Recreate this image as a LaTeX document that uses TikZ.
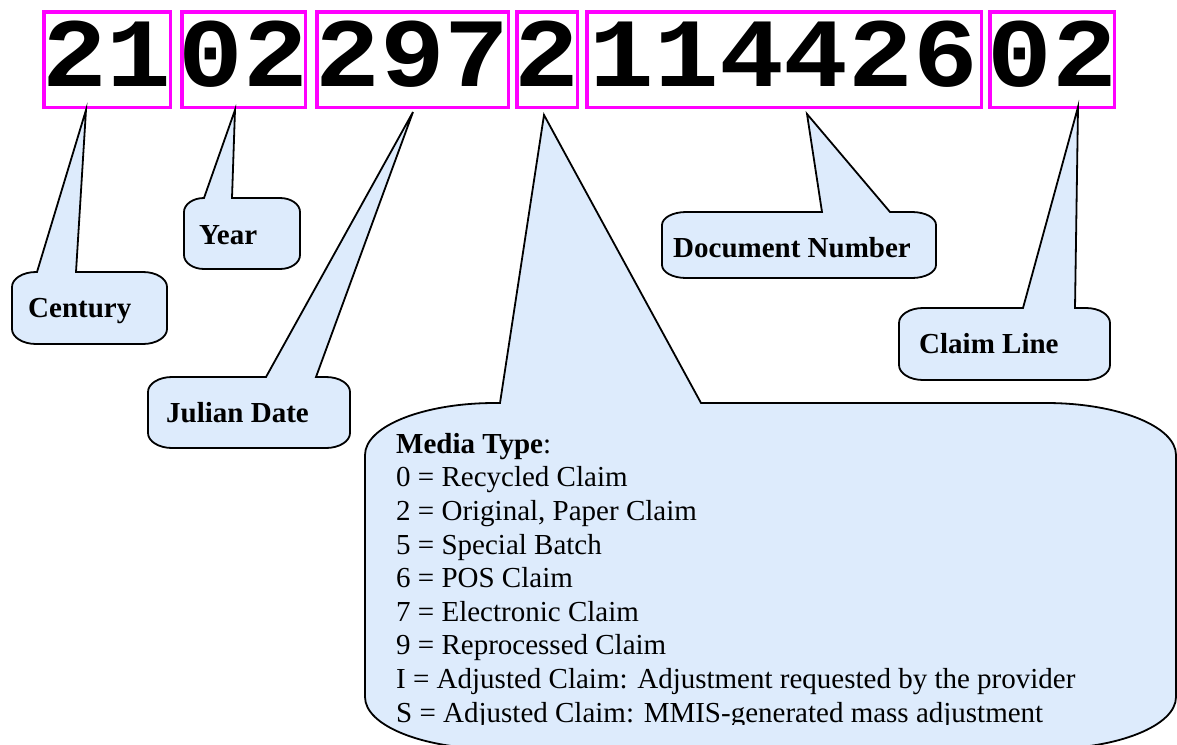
\documentclass[tikz,border=0pt]{standalone}
\usepackage{fontspec}
\setmainfont{Liberation Serif}
\newfontfamily\digitfont{Liberation Mono}[FakeStretch=1.1]

\definecolor{boxpink}{RGB}{255,0,255}
\definecolor{balloonblue}{RGB}{221,235,252}

% balloon: left, top, right, bottom, x radius, y radius, pointer base from, to, tip
\newcommand{\balloon}[9]{%
  \filldraw[balloonline] (#7,-#2) -- (#9) -- (#8,-#2)
    -- ({#3-#5},-#2) arc[start angle=90,end angle=0,x radius=#5pt,y radius=#6pt]
    -- (#3,{-#4+#6}) arc[start angle=0,end angle=-90,x radius=#5pt,y radius=#6pt]
    -- ({#1+#5},-#4) arc[start angle=270,end angle=180,x radius=#5pt,y radius=#6pt]
    -- (#1,{-#2-#6}) arc[start angle=180,end angle=90,x radius=#5pt,y radius=#6pt]
    -- cycle;}

\tikzset{
  digitbox/.style={draw=boxpink, line width=3.5pt, inner sep=0pt,
    minimum height=95.5pt, text height=69pt, text depth=16pt,
    font=\digitfont\bfseries\fontsize{98}{98}\selectfont},
  balloonline/.style={draw=black, line width=1.8pt, fill=balloonblue},
  tag/.style={inner sep=0pt, anchor=base west,
    font=\bfseries\fontsize{29}{33}\selectfont},
}

\begin{document}
\begin{tikzpicture}[x=1pt,y=1pt]
        \clip (0,0) rectangle (1177,-744);

        % the claim number, split into its fields
        \node[digitbox, minimum width=126.5pt] (century) at (107,-59.5)  {\makebox[0pt]{21}};
        \node[digitbox, minimum width=123.5pt] (year)    at (243.5,-59.5) {\makebox[0pt]{02}};
        \node[digitbox, minimum width=191.5pt] (julian)  at (412.5,-59.5) {\makebox[0pt]{297}};
        \node[digitbox, minimum width=60.5pt]  (media)   at (547,-59.5)  {\makebox[0pt]{2}};
        \node[digitbox, minimum width=394.5pt] (docnum)  at (784,-59.5)  {\makebox[0pt]{114426}};
        \node[digitbox, minimum width=124.5pt] (cline)   at (1052,-59.5) {\makebox[0pt]{02}};

        % pointer tips under the boxes
        \coordinate (centuryTip) at (86,-110);
        \coordinate (yearTip)    at (235,-110);
        \coordinate (julianTip)  at (413,-112);
        \coordinate (mediaTip)   at (544,-115);
        \coordinate (docnumTip)  at (807,-114);
        \coordinate (clineTip)   at (1078,-107);

        \balloon{12}{272}{167}{344}{24}{15}{37}{76}{centuryTip}
        \balloon{184}{198}{300}{269}{20}{14}{204}{232}{yearTip}
        \balloon{148}{377}{350}{448}{24}{15}{266}{316}{julianTip}
        \balloon{662}{212}{936}{278}{24}{13}{822}{890}{docnumTip}
        \balloon{899}{308}{1110}{380}{24}{15}{1023}{1075}{clineTip}
        \balloon{365}{403}{1176}{749}{130}{52}{500}{701}{mediaTip}

        \node[tag] (centuryLbl) at (28,-317)  {Century};
        \node[tag] (yearLbl)    at (199,-244) {Year};
        \node[tag] (julianLbl)  at (166,-422) {Julian Date};
        \node[tag] (docnumLbl)  at (673,-257) {Document Number};
        \node[tag] (clineLbl)   at (919,-353) {Claim Line};

        % the code list; its last line is cut off by the text frame
        \begin{scope}
          \clip (365,-395) rectangle (1177,-724);
          \node[inner sep=0pt, anchor=base west, align=left,
                font=\fontsize{29}{33.6}\selectfont] (mediaLbl) at (396,-722)
            {\textbf{Media Type}:\\
             0 = Recycled Claim\\
             2 = Original, Paper Claim\\
             5 = Special Batch\\
             6 = POS Claim\\
             7 = Electronic Claim\\
             9 = Reprocessed Claim\\
             I = Adjusted Claim: Adjustment requested by the provider\\
             S = Adjusted Claim: MMIS-generated mass adjustment};
        \end{scope}
    \end{tikzpicture}
\end{document}
